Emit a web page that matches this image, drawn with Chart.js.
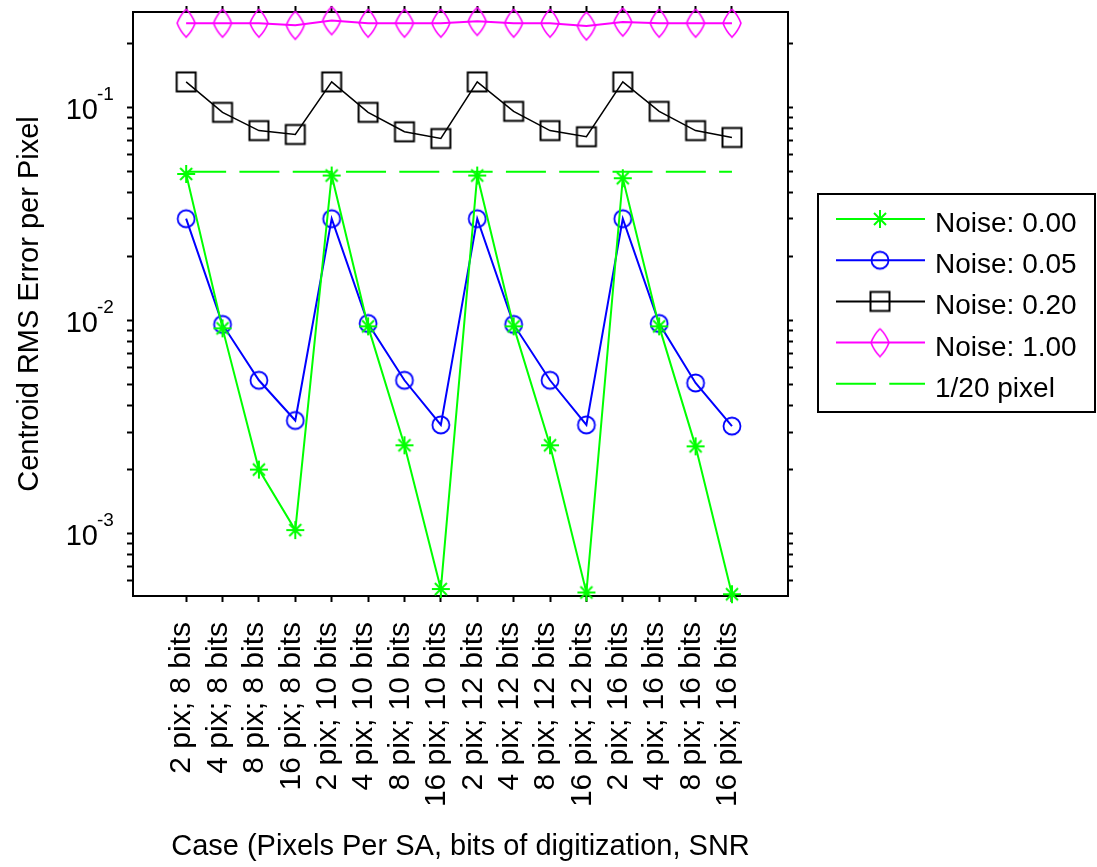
<!DOCTYPE html>
<html>
<head>
<meta charset="utf-8">
<script src="https://cdn.jsdelivr.net/npm/chart.js@4.4.0/dist/chart.umd.min.js"></script>
<style>
  body { margin: 0; background: #fff; }
  canvas { display: block; }
</style>
</head>
<body>
<canvas id="chart" width="1097" height="867"></canvas>
<script>
const caseLabels = [
  '2 pix; 8 bits', '4 pix; 8 bits', '8 pix; 8 bits', '16 pix; 8 bits',
  '2 pix; 10 bits', '4 pix; 10 bits', '8 pix; 10 bits', '16 pix; 10 bits',
  '2 pix; 12 bits', '4 pix; 12 bits', '8 pix; 12 bits', '16 pix; 12 bits',
  '2 pix; 16 bits', '4 pix; 16 bits', '8 pix; 16 bits', '16 pix; 16 bits'
];
const noise000 = [0.0488, 0.0092, 0.0020, 0.00104, 0.048, 0.0094, 0.0026, 0.00055, 0.048, 0.0094, 0.0026, 0.00053, 0.0466, 0.0094, 0.00257, 0.00052];
const noise005 = [0.0301, 0.0096, 0.00525, 0.0034, 0.0301, 0.0097, 0.00525, 0.00324, 0.0301, 0.0096, 0.00525, 0.00324, 0.0301, 0.0097, 0.0051, 0.0032];
const noise020 = [0.132, 0.095, 0.078, 0.0748, 0.132, 0.095, 0.077, 0.0716, 0.132, 0.096, 0.078, 0.073, 0.132, 0.096, 0.078, 0.0724];
const noise100 = [0.249, 0.249, 0.249, 0.2435, 0.256, 0.249, 0.249, 0.249, 0.254, 0.249, 0.249, 0.2415, 0.252, 0.249, 0.249, 0.249];
const pixelLimit = [0.05, 0.05, 0.05, 0.05, 0.05, 0.05, 0.05, 0.05, 0.05, 0.05, 0.05, 0.05, 0.05, 0.05, 0.05, 0.05];

const yMin = 0.00051, yMax = 0.281;
const yMajor = [1e-3, 1e-2, 1e-1];
const yMajorExp = ['-3', '-2', '-1'];

const family = '"Liberation Sans", Arial, sans-serif';
Chart.defaults.font.family = family;
Chart.defaults.color = '#000';

// minor + major tick marks of the log axis (1..9 x 10^n)
const yTicks = [];
[1e-4, 1e-3, 1e-2, 1e-1].forEach(d => {
  for (let k = 1; k < 10; k++) {
    const v = k * d;
    if (v >= yMin && v <= yMax) yTicks.push(v);
  }
});

function toPoints(values) {
  return values.map((v, i) => ({ x: i, y: v }));
}

function makeMarker(w, h, draw) {
  const c = document.createElement('canvas');
  c.width = w;
  c.height = h;
  const g = c.getContext('2d');
  g.translate(w / 2, h / 2);
  draw(g);
  return c;
}

const starMark = makeMarker(22, 22, g => {
  g.strokeStyle = '#00ff00';
  g.lineWidth = 2;
  g.beginPath();
  g.moveTo(-9, 0); g.lineTo(9, 0);
  g.moveTo(0, -9); g.lineTo(0, 9);
  g.moveTo(-6, -6); g.lineTo(6, 6);
  g.moveTo(-6, 6); g.lineTo(6, -6);
  g.stroke();
});
const circleMark = makeMarker(22, 22, g => {
  g.strokeStyle = '#0000ff';
  g.lineWidth = 1.8;
  g.beginPath();
  g.arc(0, 0, 8.5, 0, Math.PI * 2);
  g.stroke();
});
const squareMark = makeMarker(24, 24, g => {
  g.strokeStyle = '#000';
  g.lineWidth = 2;
  g.strokeRect(-9.5, -9.5, 19, 19);
});
const diamondMark = makeMarker(22, 32, g => {
  g.strokeStyle = '#ff00ff';
  g.lineWidth = 1.6;
  g.beginPath();
  g.moveTo(0, -14);
  g.quadraticCurveTo(6, -8, 9, 0);
  g.quadraticCurveTo(6, 8, 0, 14);
  g.quadraticCurveTo(-6, 8, -9, 0);
  g.quadraticCurveTo(-6, -8, 0, -14);
  g.stroke();
});

const tickGrid = { drawOnChartArea: false, color: '#000', tickLength: 6, tickWidth: 2 };
const axisBorder = { color: '#000', width: 2 };
const caseTicks = s => { s.ticks = caseLabels.map((_, i) => ({ value: i })); };
const logTicks = s => { s.ticks = yTicks.map(v => ({ value: v })); };

const boxLegend = {
  id: 'boxLegend',
  afterDraw(chart) {
    const ctx = chart.ctx;
    const left = chart.chartArea.right + 30, top = 194;
    ctx.save();
    ctx.strokeStyle = '#000';
    ctx.lineWidth = 2;
    ctx.strokeRect(left, top, 277, 218);
    chart.data.datasets.forEach((ds, i) => {
      const y = top + 25 + i * 41.2;
      ctx.beginPath();
      ctx.strokeStyle = ds.borderColor;
      ctx.lineWidth = 2;
      ctx.setLineDash(ds.borderDash || []);
      ctx.moveTo(left + 18, y);
      ctx.lineTo(left + 107, y);
      ctx.stroke();
      ctx.setLineDash([]);
      const m = ds.pointStyle;
      if (m instanceof HTMLCanvasElement) {
        ctx.drawImage(m, left + 62 - m.width / 2, y - m.height / 2);
      }
      ctx.fillStyle = '#000';
      ctx.font = '28px ' + family;
      ctx.textAlign = 'left';
      ctx.textBaseline = 'alphabetic';
      ctx.fillText(ds.label, left + 117, y + 13);
    });
    ctx.restore();
  }
};

const powerLabels = {
  id: 'powerLabels',
  afterDraw(chart) {
    const ctx = chart.ctx;
    const yScale = chart.scales.y;
    const x = chart.chartArea.left - 35;
    ctx.save();
    ctx.fillStyle = '#000';
    ctx.textBaseline = 'alphabetic';
    yMajor.forEach((v, i) => {
      const py = yScale.getPixelForValue(v);
      ctx.font = '29px ' + family;
      ctx.textAlign = 'right';
      ctx.fillText('10', x, py + 11);
      ctx.font = '19px ' + family;
      ctx.textAlign = 'left';
      ctx.fillText(yMajorExp[i], x - 1, py - 8);
    });
    ctx.restore();
  }
};

new Chart(document.getElementById('chart'), {
  type: 'line',
  data: {
    datasets: [
      { label: 'Noise: 0.00', data: toPoints(noise000), borderColor: '#00ff00', borderWidth: 2, pointStyle: starMark, pointRadius: 9, clip: false },
      { label: 'Noise: 0.05', data: toPoints(noise005), borderColor: '#0000ff', borderWidth: 2, pointStyle: circleMark, pointRadius: 9, clip: false },
      { label: 'Noise: 0.20', data: toPoints(noise020), borderColor: '#000', borderWidth: 1.5, pointStyle: squareMark, pointRadius: 10, clip: false },
      { label: 'Noise: 1.00', data: toPoints(noise100), borderColor: '#ff00ff', borderWidth: 2, pointStyle: diamondMark, pointRadius: 10, clip: false },
      { label: '1/20 pixel', data: toPoints(pixelLimit), borderColor: '#00ff00', borderWidth: 2, borderDash: [40, 13.3], pointRadius: 0, clip: false }
    ]
  },
  options: {
    responsive: false,
    animation: false,
    devicePixelRatio: 1,
    events: [],
    plugins: { legend: { display: false }, tooltip: { enabled: false } },
    scales: {
      x: {
        type: 'linear', position: 'bottom', min: -1.46, max: 16.54,
        afterBuildTicks: caseTicks,
        afterFit: s => { s.height = 271; },
        grid: tickGrid, border: axisBorder,
        ticks: {
          autoSkip: false, minRotation: 90, maxRotation: 90, padding: 20,
          labelOffset: -4,
          color: '#000', font: { size: 30 },
          callback: v => caseLabels[v]
        },
        title: {
          display: true, text: 'Case (Pixels Per SA, bits of digitization, SNR',
          color: '#000', font: { size: 29 }, padding: { top: 0, bottom: 3 }
        }
      },
      x2: {
        type: 'linear', position: 'top', min: -1.46, max: 16.54,
        afterBuildTicks: caseTicks,
        afterFit: s => { s.height = 9; },
        grid: tickGrid, border: axisBorder,
        ticks: { display: false }
      },
      y: {
        type: 'logarithmic', position: 'left', min: yMin, max: yMax,
        afterBuildTicks: logTicks,
        afterFit: s => { s.width = 133; },
        grid: tickGrid, border: axisBorder,
        ticks: { display: false },
        title: {
          display: true, text: 'Centroid RMS Error per Pixel',
          color: '#000', font: { size: 29 }, padding: { top: 13, bottom: 0 }
        }
      },
      y2: {
        type: 'logarithmic', position: 'right', min: yMin, max: yMax,
        afterBuildTicks: logTicks,
        afterFit: s => { s.width = 309; },
        grid: { ...tickGrid, tickLength: 5 }, border: axisBorder,
        ticks: { display: false }
      }
    }
  },
  plugins: [boxLegend, powerLabels]
});
</script>
</body>
</html>
